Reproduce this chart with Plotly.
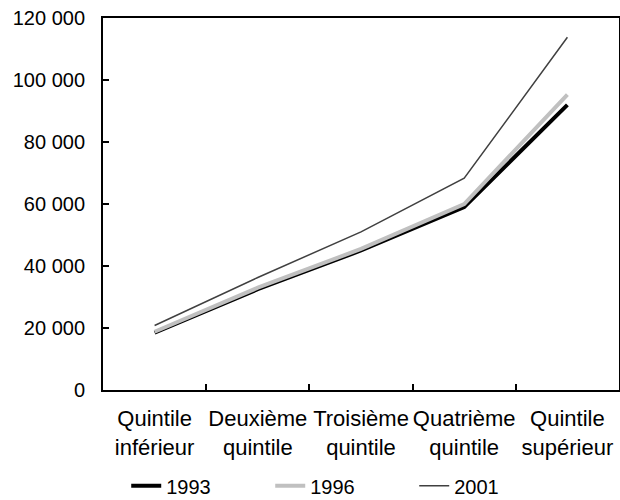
import plotly.graph_objects as go

categories = ["Quintile<br>inférieur", "Deuxième<br>quintile", "Troisième<br>quintile",
              "Quatrième<br>quintile", "Quintile<br>supérieur"]
series_names = ["1993", "1996", "2001"]
values_1993 = [18500, 32500, 45000, 59000, 92000]
values_1996 = [18800, 33000, 45500, 60000, 95300]
values_2001 = [20800, 36300, 51000, 68300, 113800]
y_tickvals = [0, 20000, 40000, 60000, 80000, 100000, 120000]
y_ticktext = ["0", "20 000", "40 000", "60 000", "80 000", "100 000", "120 000"]

FONT = "Liberation Sans, Arial, sans-serif"

fig = go.Figure()
fig.add_trace(go.Scatter(x=categories, y=values_1993, name=series_names[0], mode="lines",
                         line=dict(color="#000000", width=4)))
fig.add_trace(go.Scatter(x=categories, y=values_1996, name=series_names[1], mode="lines",
                         line=dict(color="#c0c0c0", width=4)))
fig.add_trace(go.Scatter(x=categories, y=values_2001, name=series_names[2], mode="lines",
                         line=dict(color="#404040", width=1.5)))

fig.update_layout(
    width=620, height=500,
    margin=dict(l=103, r=1, t=18, b=110, autoexpand=False),
    paper_bgcolor="white", plot_bgcolor="white",
    font=dict(family=FONT, size=20, color="black"),
    showlegend=True,
    legend=dict(orientation="h", x=0.045, xanchor="left", y=-0.205, yanchor="top",
                entrywidth=99, font=dict(size=20), itemwidth=30,
                bgcolor="rgba(0,0,0,0)"),
    xaxis=dict(type="category", range=[-0.5, 4.5], showgrid=False, zeroline=False,
               showline=True, linecolor="black", linewidth=2, mirror=True,
               ticks="inside", tickson="boundaries", ticklen=6, tickwidth=1.5,
               tickcolor="black", ticklabelstandoff=8, tickangle=0,
               tickfont=dict(size=22), automargin=False, fixedrange=True),
    yaxis=dict(range=[0, 120000], tickvals=y_tickvals, ticktext=y_ticktext,
               showgrid=False, zeroline=False, showline=True, linecolor="black",
               linewidth=2, mirror=True, ticks="inside", ticklen=6, tickwidth=1.5,
               tickcolor="black", ticklabelstandoff=12, automargin=False,
               fixedrange=True),
)

fig.write_html("out.html", config={"displayModeBar": False},
               post_script="document.body.style.margin='0';")
